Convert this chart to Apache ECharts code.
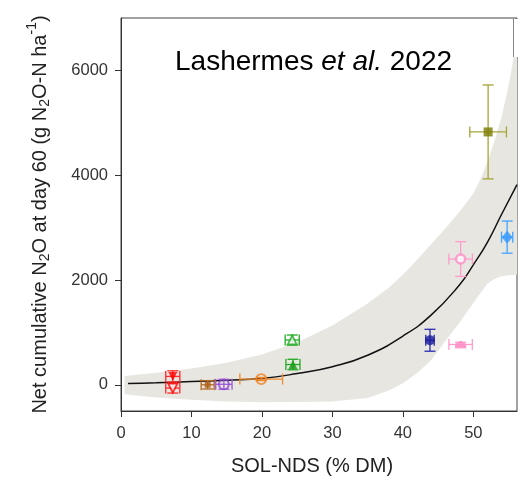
<!DOCTYPE html>
<html>
<head>
<meta charset="utf-8">
<script src="https://cdn.jsdelivr.net/npm/echarts@6/dist/echarts.min.js"></script>
<style>
html, body { margin: 0; padding: 0; background: #fff; }
#chart { width: 523px; height: 481px; }
</style>
</head>
<body>
<div id="chart"></div>
<script>
// observed points (SOL-NDS %, net N2O g/ha) with their error bars
const xVals = [7.35, 7.35, 12.3, 14.6, 19.9, 24.4, 24.3, 43.85, 48.2, 48.2, 52.1, 54.8];
const yVals = [160, -63, 0, 10, 110, 387, 855, 850, 770, 2400, 4826, 2818];
const xErr = [1.0, 1.0, 0.92, 1.16, 3.03, 1.0, 1.0, 0.6, 1.66, 1.68, 2.6, 0.8];
const yErr = [107, 95, 80, 95, 30, 100, 95, 209, 40, 332, 896, 307];

// fitted curve and its confidence band
const curveX = [1, 5, 10, 15, 20, 25, 30, 35, 40, 44, 48, 50, 52, 54, 56.2];
const curveY = [25, 38, 62, 88, 122, 215, 345, 565, 930, 1330, 1900, 2290, 2720, 3250, 3820];
const bandX = [0.5, 5, 10, 15, 20, 25, 30, 35, 38, 40, 42, 44, 46, 48, 50, 51, 52, 53, 54, 55, 56.2];
const bandUpper = [170, 230, 310, 420, 580, 810, 1130, 1550, 1850, 2100, 2380, 2680, 2980, 3300, 3650, 3920, 4250, 4650, 5100, 5700, 6600];
const bandLower = [-180, -240, -285, -320, -335, -330, -320, -250, -110, 30, 220, 470, 830, 1180, 1560, 1750, 1930, 2020, 2070, 2090, 2100];

const xTicks = [0, 10, 20, 30, 40, 50];
const yTicks = [0, 2000, 4000, 6000];

// per-point look
const barColors = ['#ff2a2a', '#ff2a2a', '#b5671f', '#9b59d6', '#f08a2c', '#22aa22', '#22aa22',
  '#2a2ab0', '#ff9ccc', '#ff9ccc', '#a5a535', '#45a3ff'];
const markColors = ['#ff0000', '#ff0000', '#b06018', '#9146d0', '#f07f20', '#139a13', '#22aa22',
  '#1a1a9c', '#ff8cc6', '#ff8cc6', '#7a7a00', '#3399ff'];
const markFill = ['fill', 'white', 'fill', 'none', 'none', 'fill', 'white', 'fill', 'fill', 'white', 'fill', 'fill'];
const markSymbol = ['triangle', 'triangle', 'rect', 'circle', 'circle', 'triangle', 'triangle', 'circle',
  'path://M0,4 L5,0 L10,4 L10,9 L0,9 Z', 'circle', 'rect', 'diamond'];
const markRotate = [180, 180, 0, 0, 0, 0, 0, 0, 0, 0, 0, 0];
const markSize = [9, 9, 6, 10, 10, 9, 9, 10, [11, 8], 9, 9, [11, 13]];

const font = 'Liberation Sans, Arial, sans-serif';
const cap = 5.5;

function renderErrorBar(params, api) {
  const i = params.dataIndex;
  const x = api.value(0), y = api.value(1), ex = api.value(2), ey = api.value(3);
  const c = api.coord([x, y]);
  const l = api.coord([x - ex, y]), r = api.coord([x + ex, y]);
  const t = api.coord([x, y + ey]), b = api.coord([x, y - ey]);
  const style = { stroke: barColors[i], lineWidth: 1.3 };
  const seg = (x1, y1, x2, y2) => ({ type: 'line', shape: { x1, y1, x2, y2 }, style });
  return {
    type: 'group',
    children: [
      seg(l[0], c[1], r[0], c[1]),
      seg(l[0], c[1] - cap, l[0], c[1] + cap),
      seg(r[0], c[1] - cap, r[0], c[1] + cap),
      seg(c[0], t[1], c[0], b[1]),
      seg(c[0] - cap, t[1], c[0] + cap, t[1]),
      seg(c[0] - cap, b[1], c[0] + cap, b[1])
    ]
  };
}

function renderBand(params, api) {
  const pts = [];
  bandX.forEach((x, k) => pts.push(api.coord([x, bandUpper[k]])));
  for (let k = bandX.length - 1; k >= 0; k--) pts.push(api.coord([bandX[k], bandLower[k]]));
  const cs = params.coordSys;
  return {
    type: 'polygon',
    shape: { points: echarts.graphic.clipPointsByRect(pts, { x: cs.x, y: cs.y, width: cs.width, height: cs.height }) },
    style: { fill: '#e7e6e1' }
  };
}

const points = xVals.map((x, i) => ({
  value: [x, yVals[i]],
  symbol: markSymbol[i],
  symbolSize: markSize[i],
  symbolRotate: markRotate[i],
  itemStyle: {
    color: markFill[i] === 'fill' ? markColors[i] : (markFill[i] === 'white' ? '#fff' : 'rgba(0,0,0,0)'),
    borderColor: markColors[i],
    borderWidth: markFill[i] === 'fill' ? 0 : (i === 9 ? 2.5 : 1.8)
  }
}));

const options = {
  backgroundColor: '#fff',
  animation: false,
  grid: { left: 121, right: 6, top: 18, bottom: 68, show: true, borderColor: '#444', borderWidth: 1 },
  xAxis: {
    type: 'value', min: 0, max: 56.2,
    splitLine: { show: false },
    axisLine: { onZero: false, lineStyle: { color: '#333' } },
    axisTick: { length: 6, customValues: xTicks, lineStyle: { color: '#333' } },
    axisLabel: { customValues: xTicks, margin: 14, fontSize: 16.5, color: '#333', fontFamily: font },
    name: 'SOL-NDS (% DM)', nameLocation: 'middle', nameGap: 45,
    nameTextStyle: { fontSize: 20, color: '#222', fontFamily: font, padding: [0, 14, 0, 0] }
  },
  yAxis: {
    type: 'value', min: -500, max: 7000,
    splitLine: { show: false },
    axisLine: { onZero: false, lineStyle: { color: '#333' } },
    axisTick: { length: 6, customValues: yTicks, lineStyle: { color: '#333' } },
    axisLabel: {
      customValues: yTicks, margin: 13, fontSize: 16.5, color: '#333', fontFamily: font,
      formatter: v => String(v)
    },
    name: '{n|Net cumulative N}{sub|2}{n|O at day 60 (g N}{sub|2}{n|O-N ha}{sup|-1}{n|)}',
    nameLocation: 'middle', nameGap: 66,
    nameTextStyle: {
      color: '#222', fontFamily: font, fontSize: 20,
      rich: {
        n: { fontSize: 20, lineHeight: 30, color: '#222', fontFamily: font },
        sub: { fontSize: 14, lineHeight: 14, verticalAlign: 'bottom', color: '#222', fontFamily: font, padding: [0, 0, 3, 0] },
        sup: { fontSize: 14, lineHeight: 14, verticalAlign: 'top', color: '#222', fontFamily: font }
      }
    }
  },
  graphic: [
    // the white text box pasted over the top of the plot
    { type: 'rect', z: 10, shape: { x: 122, y: 19, width: 397, height: 38 }, style: { fill: '#fff' } },
    { type: 'line', z: 10, shape: { x1: 513.5, y1: 18, x2: 513.5, y2: 57 }, style: { stroke: '#888', lineWidth: 1 } },
    {
      type: 'text', z: 11, x: 175, y: 62,
      style: {
        text: '{a|Lashermes }{b|et al.}{a| 2022}',
        verticalAlign: 'middle',
        rich: {
          a: { fontSize: 28, fontFamily: font, fill: '#000' },
          b: { fontSize: 28, fontFamily: font, fontStyle: 'italic', fill: '#000' }
        }
      }
    }
  ],
  series: [
    {
      type: 'custom', renderItem: renderBand, z: 1, silent: true,
      data: [[bandX[0], bandLower[0]]], encode: { x: 0, y: 1 }
    },
    {
      type: 'line', z: 2, showSymbol: false, smooth: true,
      data: curveX.map((x, i) => [x, curveY[i]]),
      lineStyle: { color: '#111', width: 1.5 }
    },
    {
      type: 'custom', renderItem: renderErrorBar, z: 3,
      data: xVals.map((x, i) => [x, yVals[i], xErr[i], yErr[i]]),
      encode: { x: 0, y: 1 }
    },
    { type: 'scatter', z: 4, data: points }
  ]
};

let chart = null;
const initChart = () => {
  const chart = echarts.init(document.getElementById('chart'));
  chart.setOption(options);
  return chart;
};
chart = initChart();
window.addEventListener('resize', function () {
  chart && chart.resize();
});
</script>
</body>
</html>
